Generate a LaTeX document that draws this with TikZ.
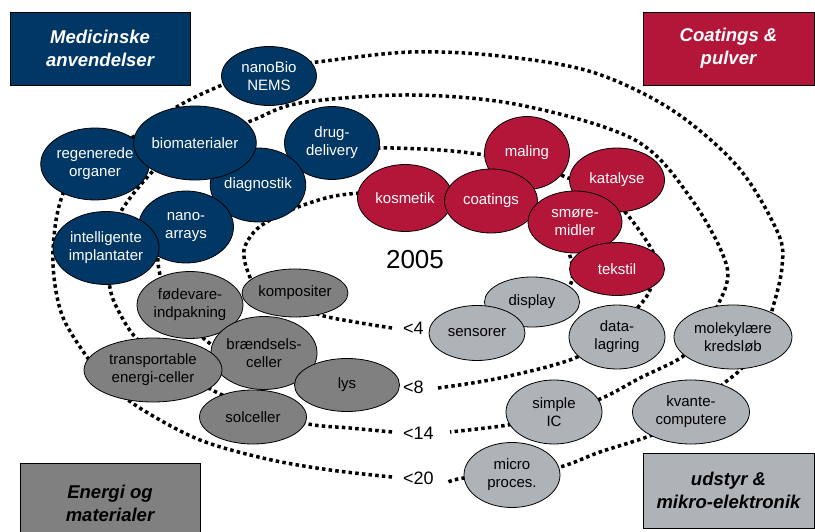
\documentclass[tikz,border=0pt]{standalone}
\usepackage{fontspec}
\setmainfont{Liberation Sans}
\usetikzlibrary{shapes.geometric}

\pgfdeclarelayer{bg}
\pgfsetlayers{bg,main}

\definecolor{medblue}{RGB}{0,55,100}
\definecolor{coatred}{RGB}{180,22,58}
\definecolor{energrey}{RGB}{128,128,128}
\definecolor{elekgrey}{RGB}{174,179,184}

\tikzset{
  bubble/.style={ellipse, draw=black, line width=0.8pt, inner sep=0pt, align=center,
    font=\fontsize{15}{18}\selectfont},
  wh/.style 2 args={minimum width=#1, minimum height=#2},
  med/.style={bubble, fill=medblue, text=white},
  coat/.style={bubble, fill=coatred, text=white},
  energi/.style={bubble, fill=energrey},
  elek/.style={bubble, fill=elekgrey},
  catbox/.style={draw=black, line width=0.8pt, inner sep=0pt, align=center,
    font=\fontsize{18.5}{23}\selectfont\bfseries\itshape},
  spiral/.style={line width=3.5pt, dash pattern=on 3.5pt off 3.2pt},
  size/.style={font=\fontsize{18}{20}\selectfont, anchor=west, inner sep=0pt}
}

\begin{document}
\begin{tikzpicture}[x=1pt,y=-1pt]
\useasboundingbox (0,0) rectangle (815,532);

% category boxes
\node [catbox, fill=medblue, text=white, wh={180}{73}] (medbox) at (100,48.5) {Medicinske\\anvendelser};
\node [catbox, fill=coatred, text=white, wh={171}{73}] (coatbox) at (728.5,48.5) {Coatings \&\\pulver};
\node [catbox, fill=energrey, wh={180}{80}] (energibox) at (110,503) {Energi og\\materialer};
\node [catbox, fill=elekgrey, wh={171}{75}] (elekbox) at (728.5,490.5) {udstyr \&\\mikro-elektronik};

% medicinske
\node [med, wh={95}{59}] (nanobio) at (269,76) {nanoBio\\NEMS};
\node [med, wh={105}{72}] (regen) at (95,164) {regenerede\\organer};
\node [med, wh={95}{73}] (drug) at (332,143) {drug-\\delivery};
\node [med, wh={95}{74}] (diagn) at (258,185) {diagnostik};
\node [med, wh={115}{74}] (biomat) at (195,143) {biomaterialer};
\node [med, wh={95}{72}] (arrays) at (186,227) {nano-\\arrays};
\node [med, wh={106}{73}] (implant) at (106,248) {intelligente\\implantater};

% coatings
\node [coat, wh={85}{73}] (maling) at (527,153) {maling};
\node [coat, wh={95}{67}] (kosmetik) at (405,198) {kosmetik};
\node [coat, wh={93}{64}] (coatings) at (491,201) {coatings};
\node [coat, wh={95}{64}] (katalyse) at (617,180) {katalyse};
\node [coat, wh={94}{62}] (smoere) at (575,222) {smøre-\\midler};
\node [coat, wh={95}{53}] (tekstil) at (617,269) {tekstil};

% energi
\node [energi, wh={106}{67}] (foede) at (190,305) {fødevare-\\indpakning};
\node [energi, wh={106}{48}] (kompo) at (295,293) {kompositer};
\node [energi, wh={105}{73}] (braend) at (264,353) {brændsels-\\celler};
\node [energi, wh={138}{64}] (transp) at (153,370) {transportable\\energi-celler};
\node [energi, wh={105}{53}] (lys) at (347,385) {lys};
\node [energi, wh={107}{54}] (sol) at (253,417) {solceller};

% elektronik
\node [elek, wh={95}{50}] (display) at (532,302) {display};
\node [elek, wh={96}{55}] (sensor) at (477,333) {sensorer};
\node [elek, wh={96}{64}] (datalag) at (617,337) {data-\\lagring};
\node [elek, wh={118}{64}] (molek) at (733,337) {molekylære\\kredsløb};
\node [elek, wh={96}{64}] (simpleic) at (554,412) {simple\\IC};
\node [elek, wh={117}{64}] (kvante) at (691,412) {kvante-\\computere};
\node [elek, wh={96}{65}] (micro) at (512,475) {micro\\proces.};

% year and size labels
\node [font=\fontsize{26}{28}\selectfont] (year) at (415,260) {2005};
\node [size] (l4) at (403,328) {<4};
\node [size] (l8) at (403,387) {<8};
\node [size] (l14) at (403,433) {<14};
\node [size] (l20) at (403,478) {<20};

% spiral behind the bubbles
\begin{pgfonlayer}{bg}
\draw [spiral] plot [smooth, tension=0.55] coordinates {(392,328) (355,322) (317,314) (262,292)
  (248,272) (244,250) (254,232) (270,220) (298,207) (330,197) (360,193) (410,190) (470,200)
  (530,215) (565,245) (572,280) (550,305) (500,322) (440,330)};
\draw [spiral] plot [smooth, tension=0.55] coordinates {(438,388) (500,378) (575,358) (615,330)
  (640,305) (650,290) (655,270) (652,250) (625,212) (600,192) (568,178) (530,163) (485,155)
  (440,150) (380,148) (320,152) (260,172) (200,210) (165,240) (158,263) (170,300) (208,342)
  (260,370) (320,383) (395,388)};
\draw [spiral] plot [smooth, tension=0.55] coordinates {(392,432) (350,428) (308,424) (260,410)
  (218,393) (175,368) (137,339) (118,310) (110,288) (108,255) (120,213) (157,167) (200,135)
  (248,122) (300,103) (410,95) (520,105) (635,140) (692,200) (727,267) (717,307) (700,335)
  (682,357) (640,378) (600,399) (550,415) (508,425) (450,432)};
\draw [spiral] plot [smooth, tension=0.55] coordinates {(392,477) (330,470) (267,459) (200,440)
  (143,410) (110,385) (87,357) (62,315) (53,265) (57,215) (70,180) (100,150) (133,137)
  (180,105) (227,83) (270,68) (317,62) (410,52) (500,56) (592,72) (672,110) (738,167)
  (778,233) (782,267) (773,307) (760,345) (740,370) (722,385) (690,415) (652,435) (600,452)
  (560,467) (510,475) (464,478) (448,482)};
\end{pgfonlayer}
\end{tikzpicture}
\end{document}
